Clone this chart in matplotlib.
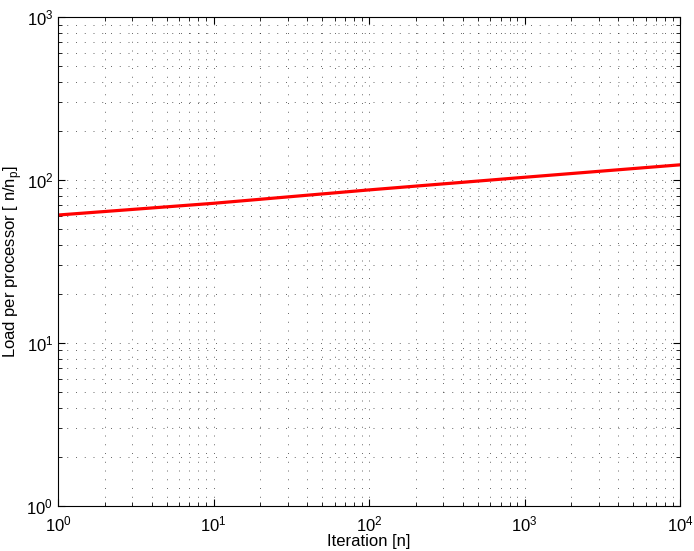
import numpy as np
import matplotlib.pyplot as plt
from matplotlib.ticker import LogLocator, NullFormatter

plt.rcParams['font.family'] = ['Liberation Sans', 'DejaVu Sans']
plt.rcParams['mathtext.fontset'] = 'custom'
plt.rcParams['mathtext.rm'] = 'Liberation Sans'

iterations = [1, 10, 100, 1000, 10000]
load = [61, 72, 87, 104, 124]

fig = plt.figure(figsize=(6.94, 5.51), dpi=100)
ax = fig.add_axes([0.0836, 0.0817, 0.8964, 0.8873])

ax.loglog(iterations, load, color='red', lw=2.3)

ax.set_xlim(1, 1e4)
ax.set_ylim(1, 1e3)
ax.xaxis.set_major_locator(LogLocator(base=10, numticks=10))
ax.yaxis.set_major_locator(LogLocator(base=10, numticks=10))
ax.xaxis.set_minor_locator(LogLocator(base=10, subs=np.arange(2, 10), numticks=100))
ax.yaxis.set_minor_locator(LogLocator(base=10, subs=np.arange(2, 10), numticks=100))
ax.xaxis.set_minor_formatter(NullFormatter())
ax.yaxis.set_minor_formatter(NullFormatter())

ax.grid(True, which='both', linestyle=(0, (1, 8)), color='black', lw=0.7, alpha=0.6)
ax.tick_params(which='both', direction='in', top=True, right=True, labelsize=12)
ax.tick_params(axis='x', which='major', pad=6)
ax.tick_params(which='major', length=5)
ax.tick_params(which='minor', length=3)

ax.set_xlabel('Iteration [n]', fontsize=12, labelpad=0)
ax.set_ylabel('Load per processor [ n/n$_\\mathregular{p}$]', fontsize=12, labelpad=2)

fig.savefig('out.png', dpi=100)
